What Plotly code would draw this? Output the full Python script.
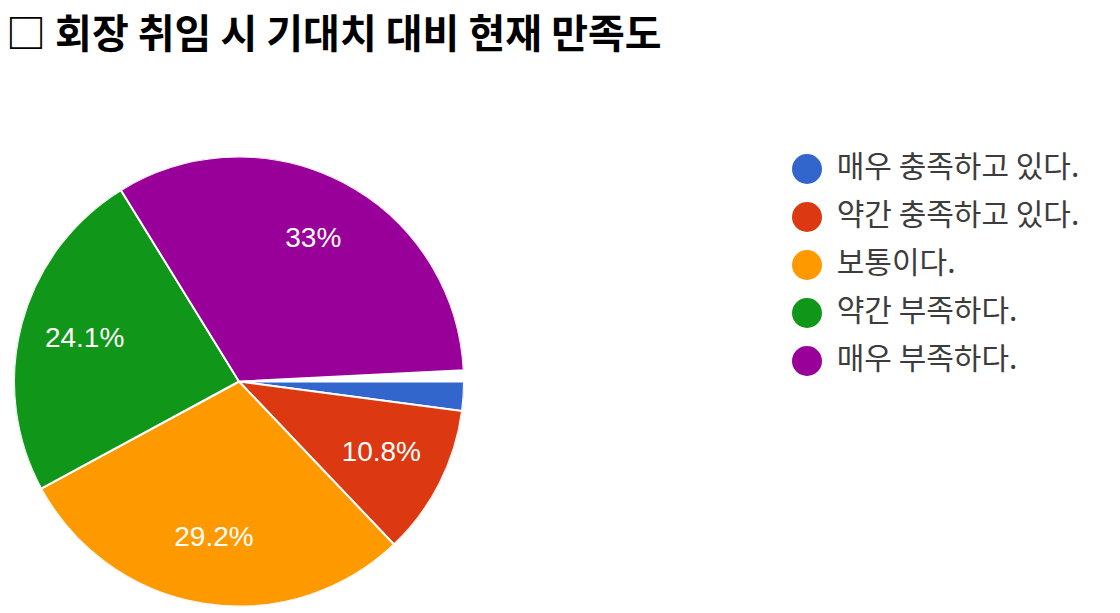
import plotly.graph_objects as go

title_text = "□ 회장 취임 시 기대치 대비 현재 만족도"
labels = ["매우 충족하고 있다.", "약간 충족하고 있다.", "보통이다.", "약간 부족하다.", "매우 부족하다."]
values = [2.1, 10.8, 29.2, 24.1, 33.0]   # percent of 100; remainder stays blank
slice_text = ["", "10.8%", "29.2%", "24.1%", "33%"]
colors = ["#3366CC", "#DC3912", "#FF9900", "#109618", "#990099"]

W, H = 1120, 613
cx, cy, r = 239, 381.5, 225

# slice angles (degrees, clockwise from 3 o'clock), derived from the values
starts = []
acc = 0.0
for v in values:
    starts.append(acc)
    acc += v
widths = [v * 3.6 for v in values]
mids = [(s + v / 2) * 3.6 for s, v in zip(starts, values)]

fig = go.Figure()
fig.add_trace(go.Barpolar(
    r=[1] * len(values),
    theta=mids,
    width=widths,
    marker=dict(color=colors, line=dict(color="white", width=2)),
    showlegend=False,
    hoverinfo="skip",
))
fig.add_trace(go.Scatterpolar(
    r=[0.71] * len(values),
    theta=mids,
    mode="text",
    text=slice_text,
    textfont=dict(family="Liberation Sans, Arial", size=28, color="white"),
    textposition="middle center",
    showlegend=False,
    hoverinfo="skip",
))

# legend drawn as a scatter of circles with labels
fig.add_trace(go.Scatter(
    x=[0] * len(labels),
    y=list(range(len(labels))),
    mode="markers",
    marker=dict(size=30, color=colors, line=dict(width=0)),
    cliponaxis=False,
    showlegend=False,
    hoverinfo="skip",
))
fig.add_trace(go.Scatter(
    x=[0.095] * len(labels),
    y=list(range(len(labels))),
    mode="text",
    text=labels,
    textposition="middle right",
    textfont=dict(family="Noto Sans CJK KR", size=30, color="#3c3c3c"),
    cliponaxis=False,
    showlegend=False,
    hoverinfo="skip",
))

fig.update_layout(
    width=W, height=H,
    margin=dict(l=0, r=0, t=0, b=0),
    paper_bgcolor="white",
    plot_bgcolor="white",
    annotations=[dict(
        text="<b>" + title_text + "</b>",
        x=0.004, xanchor="left", xref="paper",
        y=1, yanchor="top", yref="paper",
        showarrow=False,
        font=dict(family="Noto Sans CJK KR", size=40, color="black"),
    )],
    polar=dict(
        domain=dict(x=[(cx - r) / W, (cx + r) / W], y=[1 - (cy + r) / H, 1 - (cy - r) / H]),
        bgcolor="rgba(0,0,0,0)",
        radialaxis=dict(range=[0, 1], visible=False, showgrid=False, showline=False),
        angularaxis=dict(rotation=0, direction="clockwise", visible=False,
                         showgrid=False, showline=False, showticklabels=False, ticks=""),
    ),
    xaxis=dict(domain=[807 / W, 1], range=[0, 1], visible=False, fixedrange=True),
    yaxis=dict(domain=[1 - 361 / H, 1 - 169 / H], range=[4, 0], visible=False, fixedrange=True),
)

fig.write_html("out.html")
